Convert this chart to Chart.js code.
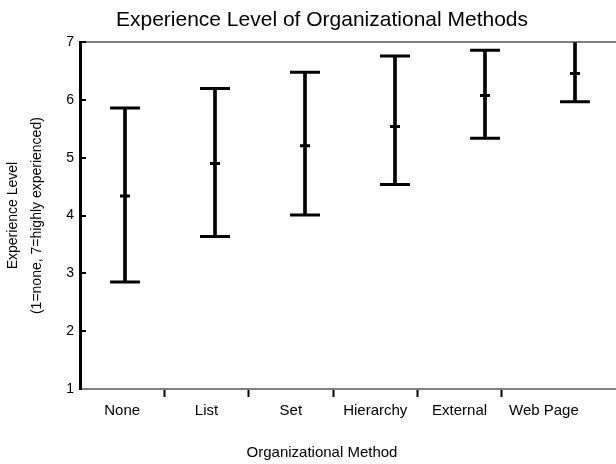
<!DOCTYPE html>
<html>
<head>
<meta charset="utf-8">
<script src="https://cdn.jsdelivr.net/npm/chart.js@4/dist/chart.umd.min.js"></script>
<style>
  html, body { margin: 0; padding: 0; background: #fff; overflow: hidden; }
  .wrap { position: relative; width: 620px; height: 464px; }
</style>
</head>
<body>
<div class="wrap"><canvas id="chart"></canvas></div>
<script>
const FONT = "'Liberation Sans', Arial, sans-serif";

// data
const methods = ["None", "List", "Set", "Hierarchy", "External", "Web Page"];
const means = [4.34, 4.90, 5.21, 5.54, 6.08, 6.46];
const lows = [2.85, 3.64, 4.01, 4.54, 5.34, 5.97];
const highs = [5.86, 6.20, 6.48, 6.76, 6.86, 7.05];
const yTicks = [1, 2, 3, 4, 5, 6, 7];

// label axis: names at 0..5, tick marks between them
const labelTicks = [0, 0.5, 1, 1.5, 2, 2.5, 3, 3.5, 4, 4.5, 5];

// titles in the original sit a bit right of the canvas centre
const titleShift = {
  id: "titleShift",
  afterLayout(chart) {
    [chart.titleBlock, chart.boxes.find((b) => b.options && b.options.text === "Organizational Method")]
      .forEach((b) => { if (b) b.left = 24; });
  },
};

const capStyle = {
  type: "line",
  showLine: false,
  pointStyle: "line",
  pointBorderColor: "#000",
  xAxisID: "x",
  yAxisID: "y",
};

const ctx = document.getElementById("chart").getContext("2d");
new Chart(ctx, {
  type: "bar",
  data: {
    labels: methods,
    datasets: [
      {
        type: "bar",
        data: methods.map((m, i) => [lows[i], highs[i]]),
        backgroundColor: "#000",
        barThickness: 3,
        xAxisID: "x",
        yAxisID: "y",
      },
      { ...capStyle, data: lows, pointRadius: 15, pointHoverRadius: 15, pointBorderWidth: 3 },
      { ...capStyle, data: highs, pointRadius: 15, pointHoverRadius: 15, pointBorderWidth: 3 },
      { ...capStyle, data: means, pointRadius: 5, pointHoverRadius: 5, pointBorderWidth: 3 },
    ],
  },
  options: {
    responsive: true,
    maintainAspectRatio: false,
    animation: false,
    layout: { padding: 0, autoPadding: false },
    plugins: {
      legend: { display: false },
      tooltip: { enabled: false },
      title: {
        display: true,
        text: "Experience Level of Organizational Methods",
        color: "#000",
        font: { family: FONT, size: 21, weight: "normal" },
        padding: { top: 8, bottom: 9 },
      },
      subtitle: {
        display: true,
        position: "bottom",
        text: "Organizational Method",
        color: "#000",
        font: { family: FONT, size: 15, weight: "normal" },
        padding: { top: 19, bottom: 2 },
      },
    },
    scales: {
      x: {
        type: "category",
        display: false,
        offset: true,
      },
      xl: {
        type: "linear",
        position: "bottom",
        offset: false,
        min: -0.5,
        max: 5.902,
        afterBuildTicks: (axis) => {
          axis.ticks = labelTicks.map((v) => ({ value: v }));
        },
        afterFit: (axis) => {
          axis.paddingLeft = 0;
          axis.paddingRight = 0;
        },
        ticks: {
          autoSkip: false,
          maxRotation: 0,
          padding: 5,
          color: "#000",
          font: { family: FONT, size: 15 },
          callback: (v) => (Number.isInteger(v) ? methods[v] : ""),
        },
        grid: {
          offset: false,
          drawOnChartArea: false,
          tickLength: 8,
          tickWidth: 2,
          tickColor: (c) => (c.tick && !Number.isInteger(c.tick.value) ? "#000" : "rgba(0,0,0,0)"),
        },
        border: { color: "#808080", width: 2 },
      },
      y: {
        min: 1,
        max: 7,
        afterBuildTicks: (axis) => {
          axis.ticks = yTicks.map((v) => ({ value: v }));
        },
        afterFit: (axis) => {
          axis.width = 80;
        },
        ticks: {
          padding: 12,
          color: "#000",
          font: { family: FONT, size: 14 },
        },
        grid: {
          tickLength: -6,
          tickWidth: 2,
          tickColor: "#000",
          lineWidth: 2,
          color: (c) => (c.tick && c.tick.value === 7 ? "#808080" : "rgba(0,0,0,0)"),
        },
        border: { color: "#000", width: 3 },
        title: {
          display: true,
          text: ["Experience Level", "(1=none, 7=highly experienced)"],
          color: "#000",
          font: { family: FONT, size: 14, lineHeight: "24px" },
          padding: { top: 1, bottom: 0 },
        },
      },
    },
  },
  plugins: [titleShift],
});
</script>
</body>
</html>
